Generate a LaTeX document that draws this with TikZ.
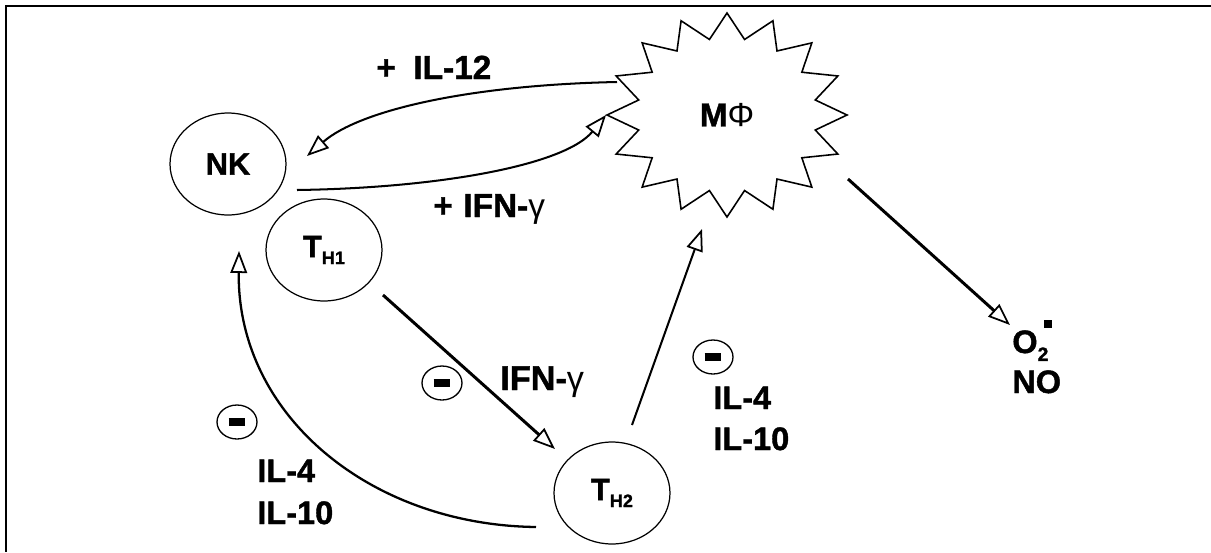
\documentclass[tikz,border=0pt]{standalone}
\usepackage{fontspec}
\setmainfont{Liberation Sans}[BoldFeatures={FakeBold=1.3}]
\usetikzlibrary{shapes.geometric,arrows.meta,calc}
\newcommand{\Tsub}[1]{T\raisebox{-4pt}{\fontsize{10.3}{11}\selectfont #1}}
\begin{document}
\begin{tikzpicture}[x=0.02cm,y=-0.02cm,
  cell/.style={draw, ellipse, line width=0.7pt, inner sep=0pt,
    minimum width=2.32cm, minimum height=2.04cm,
    font=\bfseries\fontsize{17.5}{17.5}\selectfont},
  lbl/.style={font=\bfseries\fontsize{18.5}{18.5}\selectfont, inner sep=0pt, anchor=base west},
  minus/.style={draw, ellipse, line width=0.75pt, inner sep=0pt,
    minimum width=0.8cm, minimum height=0.68cm},
  tip/.style={-{Triangle[open,length=12.5pt,width=9.5pt,line width=1pt]}},
  thickarr/.style={tip, line width=1.7pt},
  thinarr/.style={tip, line width=1.15pt}]
\useasboundingbox (0,0) rectangle (1211,552);
\draw[line width=1.2pt] (1211,6) -- (6,6) -- (6,552);

% cells
\node[cell] (NK) at (228,164) {NK};
\node[cell] (TH1) at (324,250) {\Tsub{H1}};
\node[cell] (TH2) at (612,493) {\Tsub{H2}};
\node[ellipse, minimum width=4.8cm, minimum height=4.08cm, inner sep=0pt,
  font=\bfseries\fontsize{19}{19}\selectfont] (MP) at (727,115) {M{\mdseries Φ}};
\draw[line width=0.9pt] (727,13)
  \foreach \k in {1,...,31} {
    -- ({727+(mod(\k,2)==0 ? 120 : 90)*cos(90+11.25*\k)},
        {115-(mod(\k,2)==0 ? 102 : 77)*sin(90+11.25*\k)})
  } -- cycle;

% minus signs
\node[minus] (m1) at (442,383) {\rule{9.6pt}{4.2pt}};
\node[minus] (m2) at (237,422) {\rule{9.6pt}{4.2pt}};
\node[minus] (m3) at (713,357) {\rule{9.6pt}{4.2pt}};

% labels
\node[lbl, font=\bfseries\fontsize{19}{19}\selectfont] (l12) at (376,79) {+\hspace{10pt}IL-12};
\node[lbl, font=\bfseries\fontsize{19}{19}\selectfont] (lifn1) at (433,217) {+\hspace{6pt}IFN-{\mdseries γ}};
\node[lbl, font=\bfseries\fontsize{19.5}{19.5}\selectfont] (lifn2) at (500,390) {IFN-{\mdseries γ}};
\node[lbl] (la4) at (257,482) {IL-4};
\node[lbl] (la10) at (257,524) {IL-10};
\node[lbl] (lb4) at (713,409) {IL-4};
\node[lbl] (lb10) at (713,450) {IL-10};
\node[lbl] (O2) at (1012,353) {O\rlap{\raisebox{-4.5pt}{\fontsize{11}{11}\selectfont 2}}\hspace{3.5pt}\raisebox{14.5pt}{\rule{4.5pt}{4.5pt}}};
\node[lbl] (NO) at (1012,393) {NO};

% endpoints
\coordinate (a1s) at (617,82);  \coordinate (a1e) at (307,156);
\coordinate (a2s) at (297,190); \coordinate (a2e) at (606,115);
\coordinate (a3s) at (383,295); \coordinate (a3e) at (555,449);
\coordinate (a4s) at (536,527); \coordinate (a4e) at (239,251);
\coordinate (a5s) at (632,425); \coordinate (a5e) at (702,229);
\coordinate (a6s) at (848,179); \coordinate (a6e) at (1010,325);

% connectors
\draw[thinarr] (a1s) .. controls (470,85) and (360,110) .. (a1e);
\draw[thinarr] (a2s) .. controls (440,188) and (565,165) .. (a2e);
\draw[thickarr] (a3s) -- (a3e);
\draw[thinarr, line width=1.3pt] (a4s) .. controls (370,525) and (237,415) .. (a4e);
\draw[thinarr] (a5s) -- (a5e);
\draw[thickarr] (a6s) -- (a6e);
\end{tikzpicture}
\end{document}
